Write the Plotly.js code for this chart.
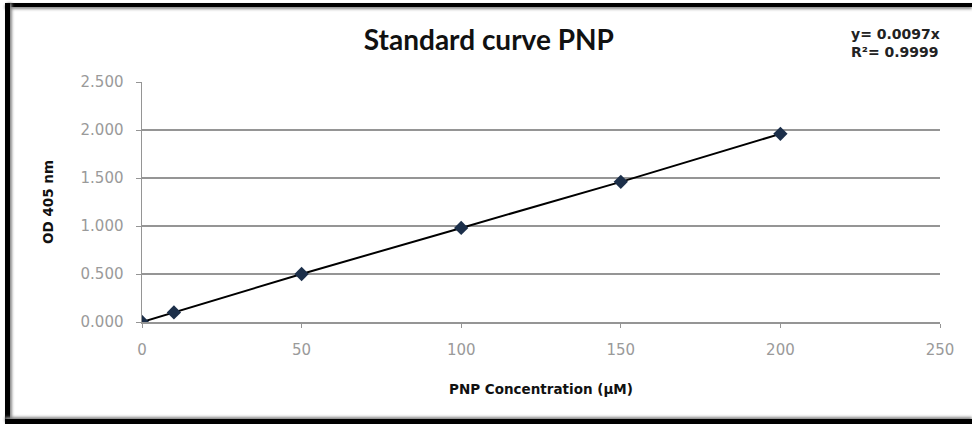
<!DOCTYPE html>
<html>
<head>
<meta charset="utf-8">
<script src="https://cdn.plot.ly/plotly-3.0.1.min.js"></script>
<style>
html,body{margin:0;padding:0;background:#fff;}
#wrap{position:relative;width:972px;height:424px;overflow:hidden;}
#chart{position:absolute;left:0;top:0;width:972px;height:424px;}
.bd{position:absolute;background:#000;}
</style>
</head>
<body>
<div id="wrap">
<div id="chart"></div>
<div class="bd" style="left:5px;top:3px;width:967px;height:4px;box-shadow:0 2px 3px #888;"></div>
<div class="bd" style="left:5px;top:3px;width:5px;height:421px;box-shadow:2px 0 3px #888;"></div>
<div class="bd" style="left:5px;top:419px;width:967px;height:5px;box-shadow:0 -2px 3px #888;"></div>
</div>
<script>
const concentration = [0, 10, 50, 100, 150, 200];
const od405 = [0, 0.10, 0.50, 0.98, 1.46, 1.96];
const xTicks = [0, 50, 100, 150, 200, 250];
const yTicks = [0, 0.5, 1, 1.5, 2, 2.5];
const yTickLabels = ["0.000", "0.500", "1.000", "1.500", "2.000", "2.500"];
const chartTitle = "Standard curve PNP";
const eqText = "y= 0.0097x<br>R\u00b2= 0.9999";

const trace = {
  x: concentration,
  y: od405,
  type: "scatter",
  mode: "lines+markers",
  line: {color: "#000000", width: 2},
  marker: {symbol: "diamond", size: 11, color: "#1c2f4a"},
  showlegend: false,
  hoverinfo: "none"
};

const layout = {
  width: 972,
  height: 424,
  margin: {l: 142, r: 32, t: 82, b: 102},
  paper_bgcolor: "#ffffff",
  plot_bgcolor: "#ffffff",
  title: {
    text: "<b>" + chartTitle + "</b>",
    font: {family: "Lato, 'Open Sans', sans-serif", size: 28, color: "#111"},
    x: 0.503, xanchor: "center", y: 0.905, yanchor: "middle"
  },
  xaxis: {
    range: [0, 250],
    tickvals: xTicks,
    ticktext: xTicks.map(String),
    showgrid: false,
    zeroline: false,
    showline: true,
    linecolor: "#959595",
    linewidth: 1.5,
    ticks: "outside",
    ticklen: 4,
    tickcolor: "#959595",
    ticklabelstandoff: 9,
    tickfont: {family: "DejaVu Sans, sans-serif", size: 15, color: "#9a9a9a"},
    title: {text: "<b>PNP Concentration (\u00b5M)</b>", font: {family: "DejaVu Sans, sans-serif", size: 13.5, color: "#111"}, standoff: 27}
  },
  yaxis: {
    range: [0, 2.5],
    tickvals: yTicks,
    ticktext: yTickLabels,
    showgrid: true,
    gridcolor: "#959595",
    gridwidth: 1.5,
    zeroline: false,
    showline: true,
    linecolor: "#959595",
    linewidth: 1.5,
    ticks: "outside",
    ticklen: 5,
    tickcolor: "#959595",
    ticklabelstandoff: 9,
    tickfont: {family: "DejaVu Sans, sans-serif", size: 15, color: "#9a9a9a"},
    title: {text: "<b>OD 405 nm</b>", font: {family: "DejaVu Sans, sans-serif", size: 13.5, color: "#111"}, standoff: 24}
  },
  annotations: [{
    text: "<b>" + eqText + "</b>",
    xref: "paper", yref: "paper",
    x: 1.0025, y: 1.162, xanchor: "right", yanchor: "middle",
    align: "left",
    showarrow: false,
    font: {family: "DejaVu Sans, sans-serif", size: 14, color: "#222"}
  }]
};

Plotly.newPlot("chart", [trace], layout, {displayModeBar: false, staticPlot: true});
</script>
</body>
</html>
